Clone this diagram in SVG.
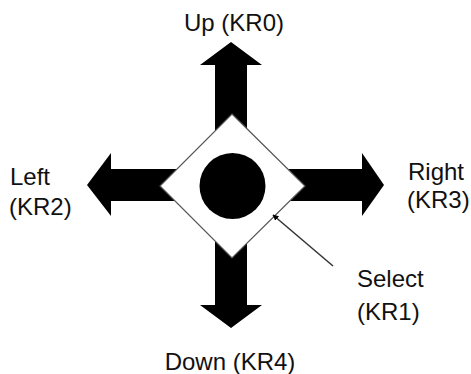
<svg xmlns="http://www.w3.org/2000/svg" width="471" height="374" viewBox="0 0 471 374">
<defs>
<style>
.arrow{fill:#000;stroke:none}
.lbl{font-family:"Liberation Sans",Arial,sans-serif;font-size:24px;fill:#111}
.diamond{fill:#fff;stroke:#555;stroke-width:1.2}
.ptr{stroke:#333;stroke-width:1.5;fill:none}
</style>
<marker id="ah" viewBox="0 0 10 10" refX="9" refY="5" markerWidth="6" markerHeight="6" markerUnits="userSpaceOnUse" orient="auto-start-reverse">
<path d="M0,0 L10,5 L0,10 Z" fill="#000"/>
</marker>
</defs>
<rect width="471" height="374" fill="#fff"/>
<g id="up">
<polygon class="arrow" points="231,42 262,65 247,65 247,186 215,186 215,65 200,65"/>
<text class="lbl" x="234" y="31" text-anchor="middle">Up (KR0)</text>
</g>
<g id="down">
<polygon class="arrow" points="231,328 262,305 247,305 247,186 215,186 215,305 200,305"/>
<text class="lbl" x="230" y="370" text-anchor="middle">Down (KR4)</text>
</g>
<g id="left">
<polygon class="arrow" points="87,185 111,153 111,169 232,169 232,201 111,201 111,216"/>
<text class="lbl" x="10" y="185">Left</text>
<text class="lbl" x="9" y="215">(KR2)</text>
</g>
<g id="right">
<polygon class="arrow" points="384,185 362,153 362,169 232,169 232,201 362,201 362,216"/>
<text class="lbl" x="408" y="180">Right</text>
<text class="lbl" x="407" y="208">(KR3)</text>
</g>
<g id="select">
<polygon class="diamond" points="232,114 305,186 232,258 160,186"/>
<circle cx="232.5" cy="186" r="33" fill="#000"/>
<text class="lbl" x="357" y="287">Select</text>
<text class="lbl" x="357" y="320">(KR1)</text>
</g>
<g id="connectors">
<line class="ptr" x1="333" y1="266" x2="273" y2="215" marker-end="url(#ah)"/>
</g>
</svg>
